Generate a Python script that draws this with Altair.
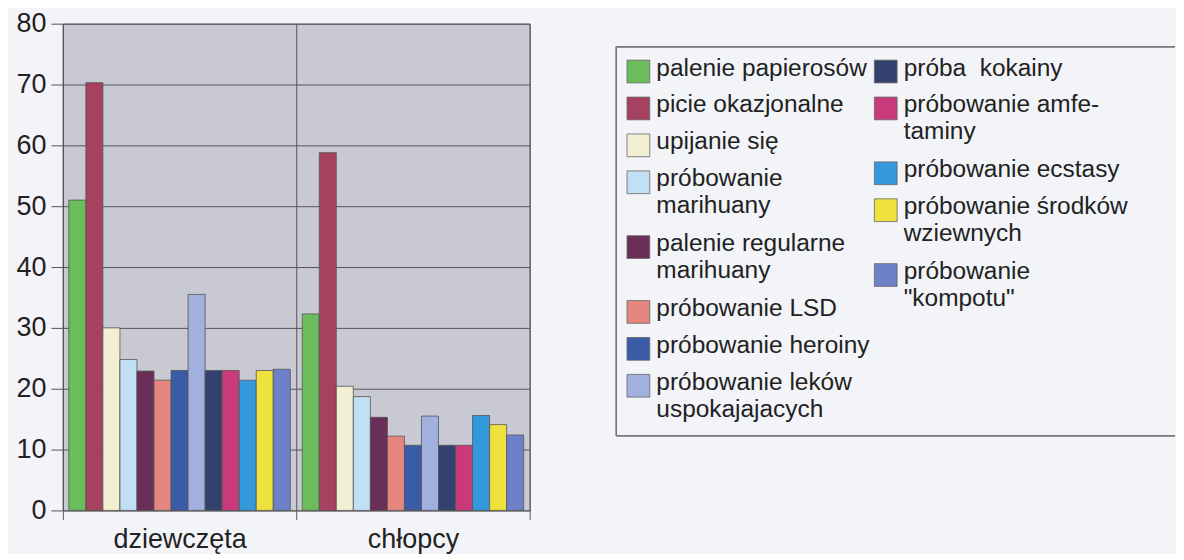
import altair as alt
import pandas as pd

groups = ["dziewczęta", "chłopcy"]

series = [
    "palenie papierosów",
    "picie okazjonalne",
    "upijanie się",
    "próbowanie\nmarihuany",
    "palenie regularne\nmarihuany",
    "próbowanie LSD",
    "próbowanie heroiny",
    "próbowanie leków\nuspokajajacych",
    "próba\u00a0 kokainy",
    "próbowanie amfe-\ntaminy",
    "próbowanie ecstasy",
    "próbowanie środków\nwziewnych",
    "próbowanie\n\"kompotu\"",
]

colors = [
    "#6bbd5b", "#a6415f", "#f3efd2", "#c2e0f4", "#6a2f58", "#e6877f",
    "#3a5ba5", "#a2b0de", "#33416f", "#c93a7b", "#3498dd", "#efe23e", "#6e80c8",
]

values_dziewczeta = [51.0, 70.3, 30.0, 24.8, 22.9, 21.4, 23.0, 35.5, 23.0, 23.0, 21.4, 23.0, 23.2]
values_chlopcy = [32.3, 58.8, 20.4, 18.7, 15.3, 12.2, 10.7, 15.5, 10.7, 10.7, 15.6, 14.1, 12.4]

y_ticks = [0, 10, 20, 30, 40, 50, 60, 70, 80]

FONT = "Liberation Sans"
TXT = "#222222"

rows = []
for g, vals in zip(groups, [values_dziewczeta, values_chlopcy]):
    for s, v in zip(series, vals):
        rows.append({"group": g, "series": s, "value": v})
df = pd.DataFrame(rows)

color_scale = alt.Scale(domain=series, range=colors)

bars = alt.Chart(df).mark_bar(stroke="#555555", strokeWidth=0.8).encode(
    x=alt.X(
        "group:N",
        sort=groups,
        scale=alt.Scale(paddingInner=0, paddingOuter=0),
        axis=alt.Axis(
            title=None, labelAngle=0, labelFontSize=27, labelFont=FONT, labelColor=TXT,
            tickBand="extent", grid=True, gridColor="#555555", gridWidth=1,
            tickSize=9, tickColor="#555555", labelPadding=7, domain=False,
        ),
    ),
    xOffset=alt.XOffset("series:N", sort=series,
                        scale=alt.Scale(paddingOuter=0.35, paddingInner=0)),
    y=alt.Y(
        "value:Q",
        scale=alt.Scale(domain=[0, 80], nice=False),
        axis=alt.Axis(
            title=None, values=y_ticks, labelFontSize=27, labelFont=FONT, labelColor=TXT,
            grid=True, gridColor="#555555", gridWidth=1, tickSize=12, tickColor="#555555",
            labelPadding=5, domainColor="#555555",
        ),
    ),
    color=alt.Color("series:N", scale=color_scale, legend=None),
).properties(width=468, height=488)

# legend panel built from the series list
leg_rows = []
slot = [0.0, 0.0]
for i, s in enumerate(series):
    c = 0 if i < 8 else 1
    nlines = s.count("\n") + 1
    leg_rows.append({"series": s, "col": c, "slot": slot[c]})
    slot[c] += 1 + 0.757 * (nlines - 1)
leg = pd.DataFrame(leg_rows)

lx = alt.X("col:Q", scale=alt.Scale(domain=[0, 1], range=[22, 270]), axis=None)
ly = alt.Y("slot:Q", scale=alt.Scale(domain=[0, 10], range=[48, 418]), axis=None)

leg_sq = alt.Chart(leg).mark_square(size=520, stroke="#666666", strokeWidth=0.8, opacity=1).encode(
    x=lx, y=ly, color=alt.Color("series:N", scale=color_scale, legend=None)
)
leg_txt = alt.Chart(leg).mark_text(
    align="left", baseline="top", dx=18, dy=-15, fontSize=24.5, font=FONT,
    color=TXT, lineBreak="\n", lineHeight=27,
).encode(x=lx, y=ly, text="series:N")

box_top = alt.Chart(leg).mark_rule(color="#777777", strokeWidth=1).encode(
    x=alt.value(0), x2=alt.value(560), y=alt.value(23))
box_bottom = alt.Chart(leg).mark_rule(color="#777777", strokeWidth=1).encode(
    x=alt.value(0), x2=alt.value(560), y=alt.value(413))
box_left = alt.Chart(leg).mark_rule(color="#777777", strokeWidth=1).encode(
    x=alt.value(0), y=alt.value(23), y2=alt.value(413))

legend_panel = alt.layer(box_top, box_bottom, box_left, leg_sq, leg_txt).properties(
    width=555, height=488, view=alt.ViewBackground(fill=None, stroke=None)
)

chart = alt.hconcat(bars, legend_panel, spacing=85).properties(
    padding={"left": 7, "top": 0, "right": 0, "bottom": 0},
    background="#f3f4f8",
).configure_view(fill="#c9c9d3", stroke="#666666")

chart.save("out.html", embed_options={"renderer": "svg", "actions": False})
